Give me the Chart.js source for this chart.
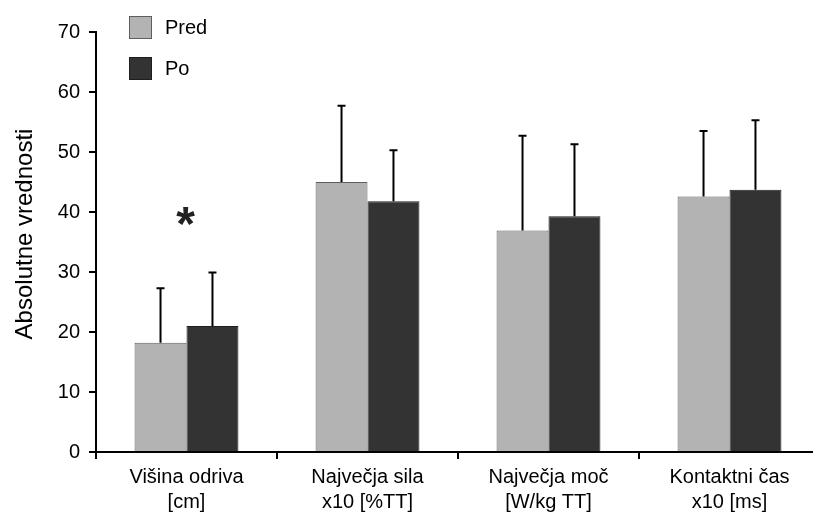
<!DOCTYPE html>
<html>
<head>
<meta charset="utf-8">
<script src="https://cdn.jsdelivr.net/npm/chart.js@4"></script>
<style>
    body { margin: 0; overflow: hidden; background: #fff; }
    #wrap { width: 830px; height: 514px; }
</style>
</head>
<body>
<div id="wrap"><canvas id="chart"></canvas></div>
<script>
// kategorije in vrednosti
const categories = [
    ['Višina odriva', '[cm]'],
    ['Največja sila', 'x10 [%TT]'],
    ['Največja moč', '[W/kg TT]'],
    ['Kontaktni čas', 'x10 [ms]']
];
const predValues = [18.2, 45.0, 36.9, 42.6];
const poValues = [21.0, 41.8, 39.3, 43.7];
// standardni odkloni (samo navzgor)
const predErrors = [9.1, 12.7, 15.8, 10.9];
const poErrors = [8.9, 8.5, 12.0, 11.6];
const sigMarks = ['*', '', '', ''];
const yTicks = [0, 10, 20, 30, 40, 50, 60, 70];
const yTitle = 'Absolutne vrednosti';

const FONT = 'Liberation Sans, Arial, sans-serif';

const errorBars = {
    id: 'errorBars',
    afterDatasetsDraw(chart) {
        const ctx = chart.ctx;
        const y = chart.scales.y;
        const errs = [predErrors, poErrors];
        ctx.save();
        ctx.strokeStyle = '#000';
        ctx.lineWidth = 2;
        chart.data.datasets.forEach((ds, i) => {
            const meta = chart.getDatasetMeta(i);
            meta.data.forEach((bar, j) => {
                const top = y.getPixelForValue(ds.data[j] + errs[i][j]);
                ctx.beginPath();
                ctx.moveTo(bar.x, bar.y);
                ctx.lineTo(bar.x, top);
                ctx.moveTo(bar.x - 4, top);
                ctx.lineTo(bar.x + 4, top);
                ctx.stroke();
            });
        });
        // zvezdica za statisticno znacilno razliko
        ctx.fillStyle = '#222';
        ctx.font = 'bold 48px ' + FONT;
        ctx.textAlign = 'center';
        ctx.textBaseline = 'alphabetic';
        sigMarks.forEach((m, j) => {
            if (!m) return;
            const x = chart.scales.x.getPixelForValue(j) - 1;
            const hi = Math.max(predValues[j] + predErrors[j], poValues[j] + poErrors[j]);
            const cy = y.getPixelForValue(hi) - 57;
            const tm = ctx.measureText(m);
            const off = (tm.actualBoundingBoxAscent - tm.actualBoundingBoxDescent) / 2;
            ctx.fillText(m, x, cy + off);
        });
        ctx.restore();
    }
};

const boxLegend = {
    id: 'boxLegend',
    afterDraw(chart) {
        const ctx = chart.ctx;
        const area = chart.chartArea;
        const left = area.left + 33;
        ctx.save();
        ctx.font = '20px ' + FONT;
        ctx.textBaseline = 'middle';
        ctx.textAlign = 'left';
        chart.data.datasets.forEach((ds, i) => {
            const top = 16 + i * 41;
            ctx.fillStyle = ds.backgroundColor;
            ctx.fillRect(left, top, 23, 23);
            ctx.strokeStyle = ds.borderColor;
            ctx.lineWidth = 1;
            ctx.strokeRect(left + 0.5, top + 0.5, 22, 22);
            ctx.fillStyle = '#000';
            ctx.fillText(ds.label, left + 36, top + 12);
        });
        // naslov osi y
        ctx.font = '24px ' + FONT;
        ctx.textAlign = 'center';
        ctx.translate(25, (area.top + area.bottom) / 2 - 8);
        ctx.rotate(-Math.PI / 2);
        ctx.fillText(yTitle, 0, 0);
        ctx.restore();
    }
};

const ctx = document.getElementById('chart').getContext('2d');
new Chart(ctx, {
    type: 'bar',
    data: {
        labels: categories,
        datasets: [
            {
                label: 'Pred',
                data: predValues,
                backgroundColor: '#b3b3b3',
                borderColor: '#5e5e5e',
                borderWidth: 1
            },
            {
                label: 'Po',
                data: poValues,
                backgroundColor: '#333333',
                borderColor: '#1e1e1e',
                borderWidth: 1
            }
        ]
    },
    options: {
        responsive: true,
        maintainAspectRatio: false,
        animation: false,
        categoryPercentage: 0.574,
        barPercentage: 1.0,
        layout: {
            padding: { top: 32, left: 0, right: 10, bottom: 0 }
        },
        plugins: {
            legend: { display: false },
            tooltip: { enabled: false }
        },
        scales: {
            x: {
                offset: true,
                grid: {
                    offset: true,
                    drawOnChartArea: false,
                    drawTicks: true,
                    tickLength: 7,
                    color: '#000',
                    lineWidth: 2
                },
                border: { color: '#000', width: 2 },
                ticks: {
                    color: '#000',
                    padding: 6,
                    font: { family: FONT, size: 20, lineHeight: 1.25 },
                    maxRotation: 0
                },
                afterFit: s => { s.height = 62; }
            },
            y: {
                min: 0,
                max: 70,
                afterBuildTicks: s => { s.ticks = yTicks.map(v => ({ value: v })); },
                grid: {
                    drawOnChartArea: false,
                    drawTicks: true,
                    tickLength: 7,
                    color: '#000',
                    lineWidth: 2
                },
                border: { color: '#000', width: 2 },
                ticks: {
                    color: '#000',
                    padding: 9,
                    font: { family: FONT, size: 20 }
                },
                afterFit: s => { s.width = 96; }
            }
        }
    },
    plugins: [errorBars, boxLegend]
});
</script>
</body>
</html>
